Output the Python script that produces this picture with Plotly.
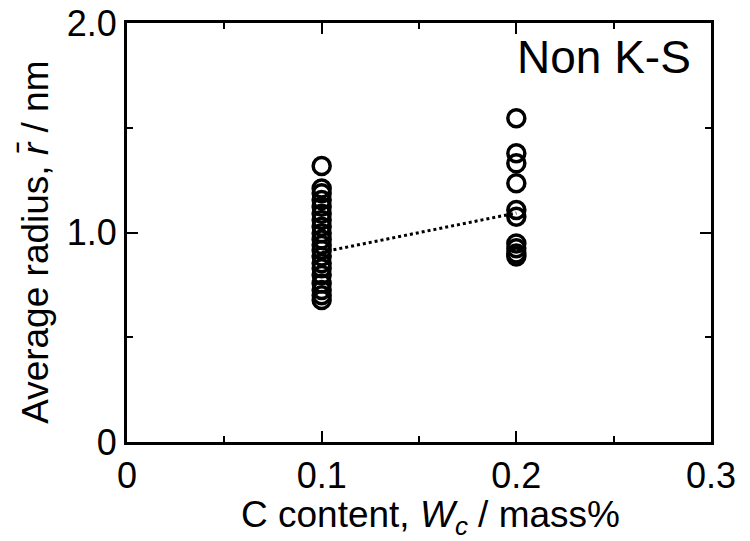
import plotly.graph_objects as go

# Average precipitate radius (nm) measured at each carbon content (mass%)
c_low = 0.1
radius_low = [1.317, 1.21, 1.187, 1.155, 1.123, 1.09, 1.06, 1.028, 0.996, 0.967,
              0.94, 0.916, 0.885, 0.853, 0.829, 0.797, 0.757, 0.726, 0.70, 0.678]
c_high = 0.2
radius_high = [1.545, 1.378, 1.33, 1.235, 1.107, 1.075, 0.948, 0.925, 0.90, 0.885]

# Trend between the two carbon levels
trend_c = [0.1, 0.2]
trend_r = [0.906, 1.093]

x_ticks = [0, 0.1, 0.2, 0.3]
x_tick_text = ["0", "0.1", "0.2", "0.3"]
y_ticks = [0, 1.0, 2.0]
y_tick_text = ["0", "1.0", "2.0"]

FONT = "Liberation Sans, Arial, sans-serif"
TICK = 36
TITLE = 37

fig = go.Figure()

fig.add_trace(go.Scatter(
    x=trend_c, y=trend_r, mode="lines",
    line=dict(color="black", width=3, dash="dot"),
    showlegend=False, hoverinfo="skip",
))

marker_style = dict(symbol="circle-open", size=17, color="black",
                    line=dict(color="black", width=3.5))

fig.add_trace(go.Scatter(
    x=[c_low] * len(radius_low), y=radius_low, mode="markers",
    marker=marker_style, showlegend=False,
))
fig.add_trace(go.Scatter(
    x=[c_high] * len(radius_high), y=radius_high, mode="markers",
    marker=marker_style, showlegend=False,
))

axis_common = dict(
    showline=True, linecolor="black", linewidth=3, mirror="allticks",
    ticks="inside", ticklen=11, tickwidth=2, tickcolor="black",
    showgrid=False, zeroline=False, automargin=False,
    tickfont=dict(family=FONT, size=TICK, color="black"),
)

fig.update_xaxes(
    range=[0, 0.3], tickvals=x_ticks, ticktext=x_tick_text,
    minor=dict(tickvals=[0.05, 0.15, 0.25], ticks="inside", ticklen=6,
               tickwidth=2, tickcolor="black"),
    **axis_common,
)
fig.update_yaxes(
    range=[0, 2.0], tickvals=y_ticks, ticktext=y_tick_text,
    minor=dict(tickvals=[0.5, 1.5], ticks="inside", ticklen=6,
               tickwidth=2, tickcolor="black"),
    **axis_common,
)

title_font = dict(family=FONT, size=TITLE, color="black")

# Axis titles, placed relative to the plotting area
fig.add_annotation(
    x=0.52, y=-0.178, xref="paper", yref="paper",
    text="C content, <i>W</i><sub><i>c</i></sub> / mass%",
    showarrow=False, xanchor="center", yanchor="middle",
    height=40, valign="middle", font=title_font,
)
fig.add_annotation(
    x=-0.158, y=0.477, xref="paper", yref="paper",
    text="Average radius, <i>r̄</i> / nm", textangle=-90,
    showarrow=False, xanchor="center", yanchor="middle", font=title_font,
)

fig.add_annotation(
    x=0.291, y=1.84, xref="x", yref="y", text="Non K-S", showarrow=False,
    xanchor="right", yanchor="middle",
    font=dict(family=FONT, size=46, color="black"),
)

fig.update_layout(
    width=750, height=541,
    margin=dict(l=127, r=39, t=23, b=99),
    paper_bgcolor="white", plot_bgcolor="white",
)

fig.write_html("out.html")
